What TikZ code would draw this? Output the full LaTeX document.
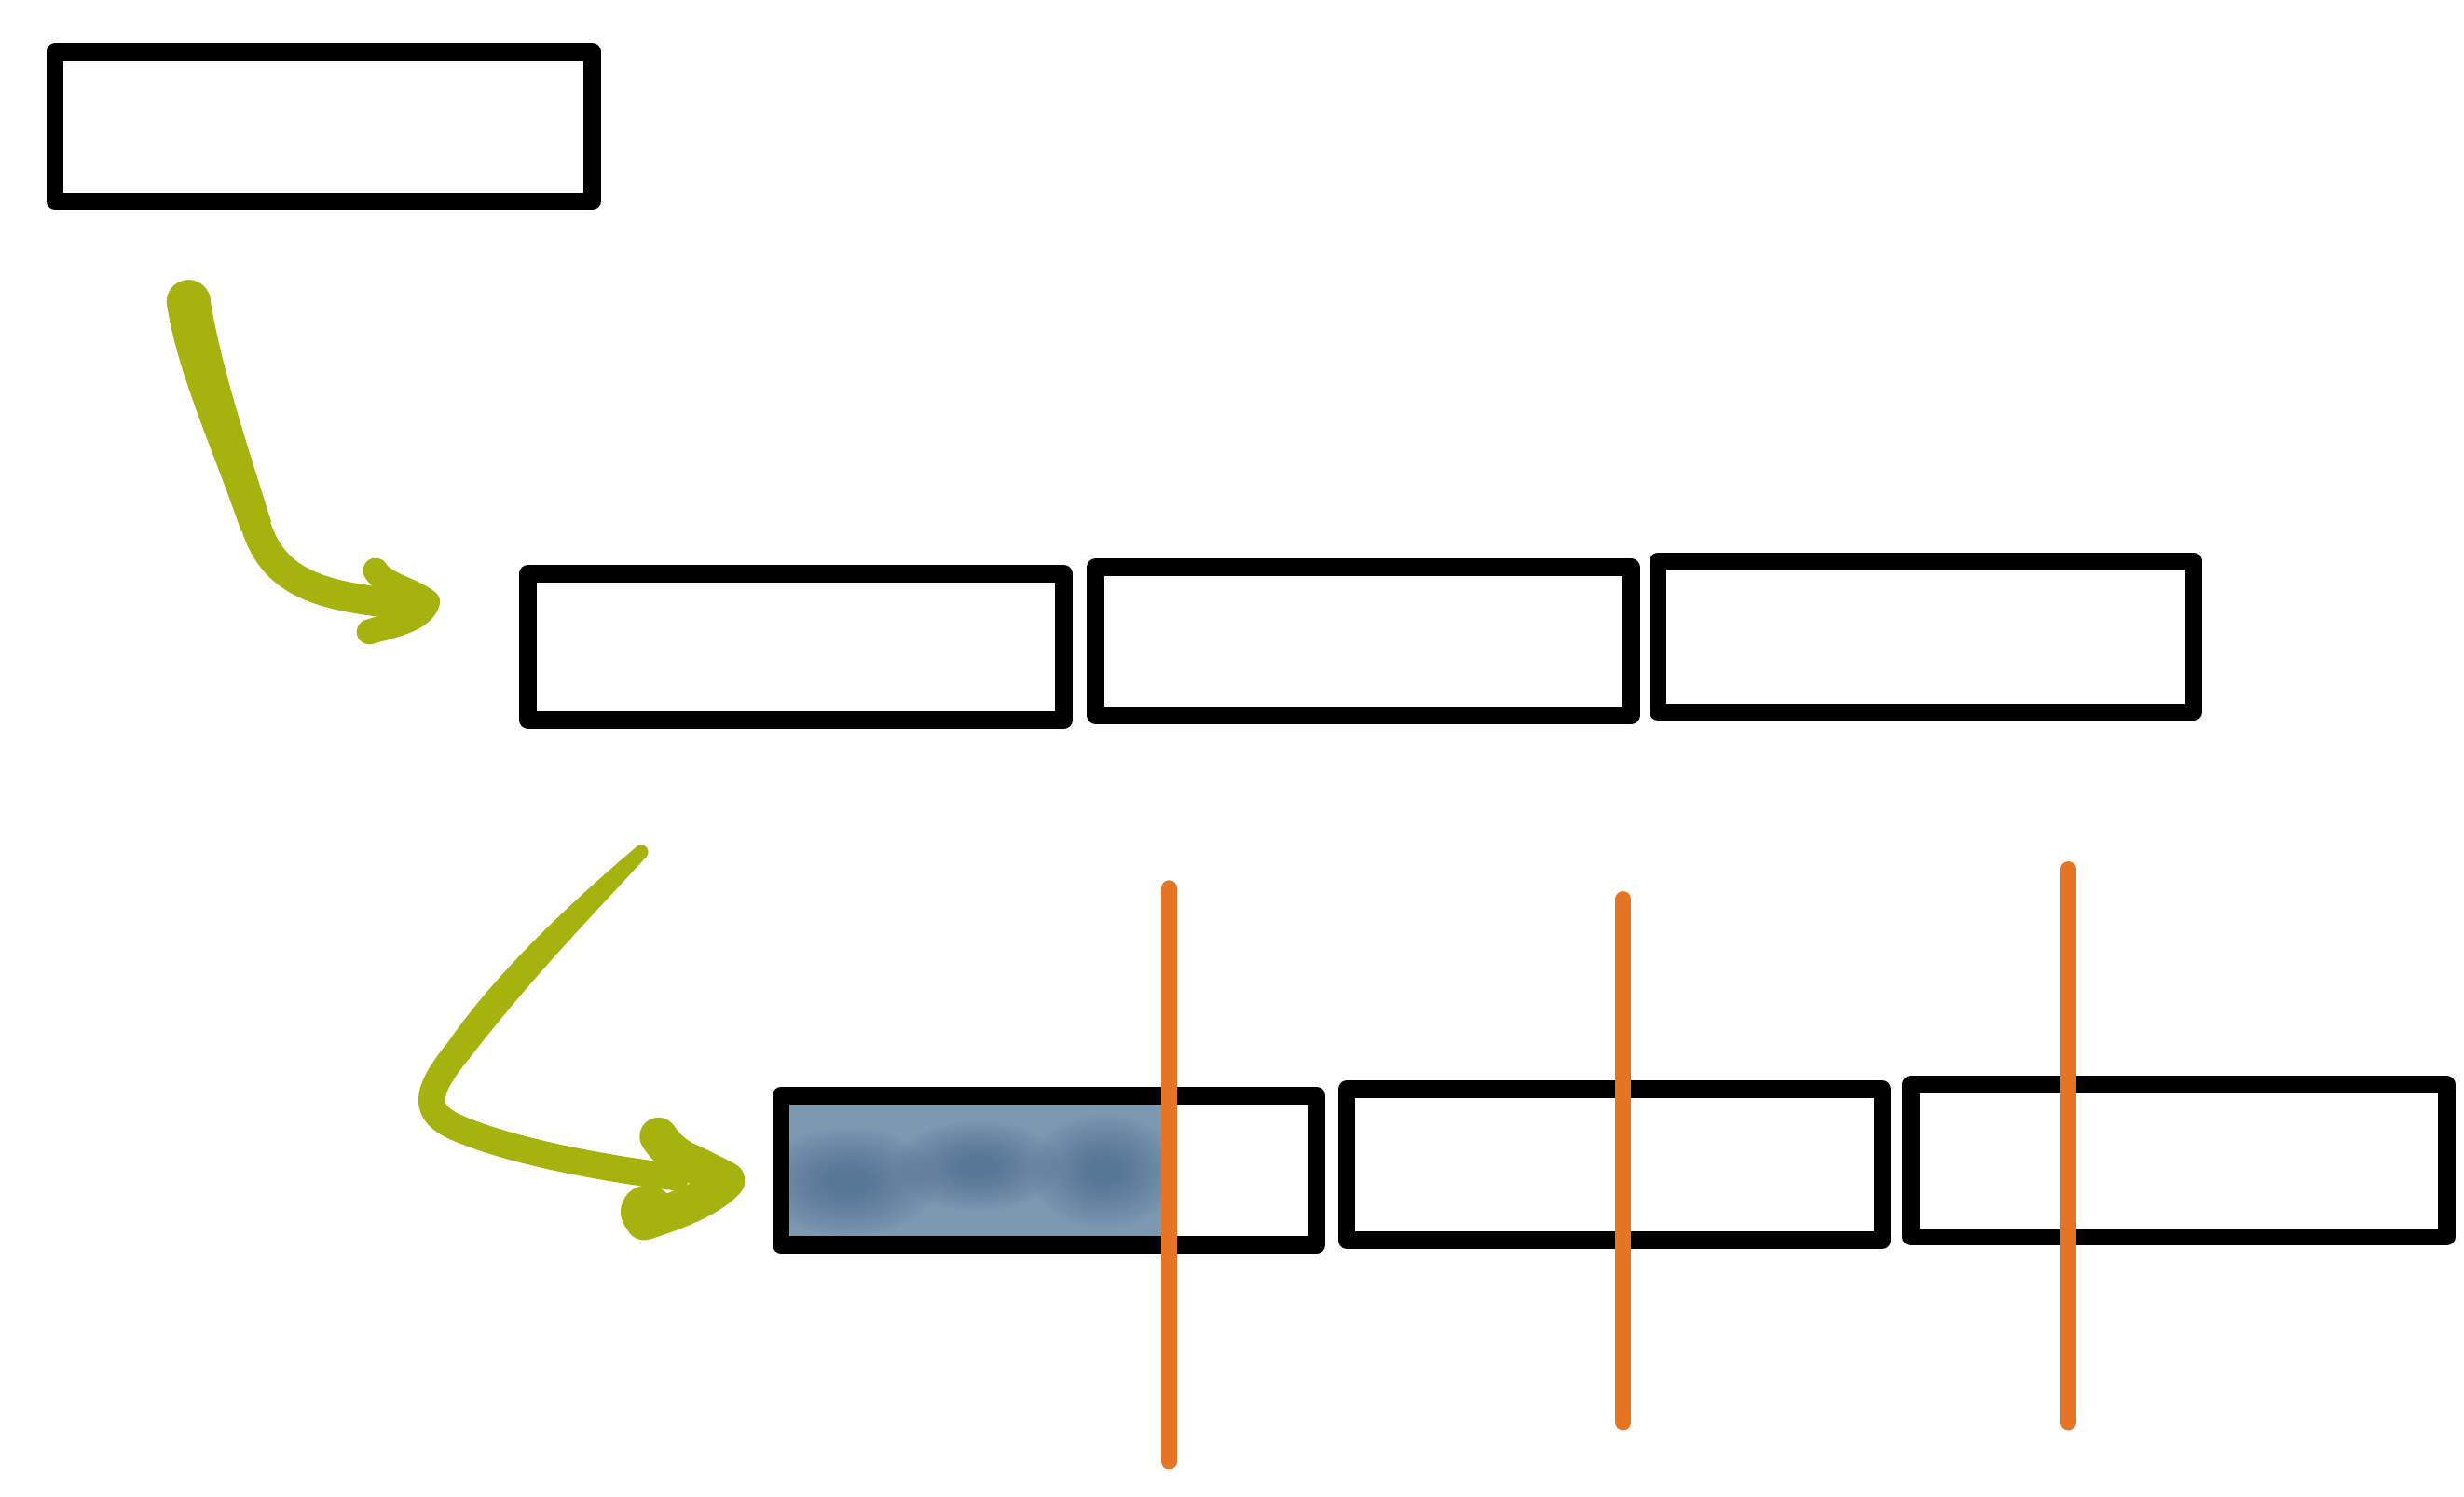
\documentclass[tikz,border=0pt]{standalone}
\definecolor{arrowgreen}{HTML}{A6B20E}
\definecolor{cutorange}{HTML}{E57524}
\definecolor{blueA}{HTML}{7D98B1}
\definecolor{blueB}{HTML}{3D6287}
\begin{document}
\begin{tikzpicture}[x=1pt,y=-1pt,
  blk/.style={draw=black,line width=11pt,rectangle,inner sep=0pt,outer sep=0pt,
    minimum width=341pt,minimum height=94pt,line join=round},
  edge/.style={draw=black,line width=11pt,line cap=round},
  grn/.style={draw=arrowgreen,line cap=round,line join=round},
  cut/.style={draw=cutorange,line width=10pt,line cap=round},
  blob/.style={fill=blueB,fill opacity=0.045}]
\useasboundingbox (0,0) rectangle (1568,952);
% blue shaded region
\begin{scope}
\clip[rounded corners=4pt] (501,701) rectangle (742,787);
\fill[blueA] (501,701) rectangle (742,787);
\foreach \r in {0.2,0.25,...,1.0}{
  \fill[blob] (540,752) ellipse ({60*\r} and {36*\r});
  \fill[blob] (703,745) ellipse ({50*\r} and {38*\r});
  \fill[blob] (622,742) ellipse ({56*\r} and {30*\r});
}
\end{scope}
% boxes
\node[blk,minimum width=342pt,minimum height=95pt] (a) at (206,80.5) {};
\node[blk,minimum height=93pt] (b1) at (506.5,411.5) {};
\node[blk] (b2) at (867.5,408) {};
\node[blk,minimum height=96pt] (b3) at (1225.5,405) {};
\node[blk,minimum height=95pt] (c1) at (667.5,744.5) {};
\node[blk,minimum height=96pt] (c2) at (1027.5,741) {};
\node[blk,minimum height=97pt] (c3) at (1386.5,738.5) {};
\foreach \b in {a,b1,b2,b3,c1,c2,c3}{
  \draw[edge] ([yshift=-1pt]\b.north west) -- ([yshift=4pt]\b.south west);
  \draw[edge] ([yshift=-2pt]\b.north east) -- ([yshift=2pt]\b.south east);
}
% cut lines
\coordinate (o1t) at (744,565); \coordinate (o1b) at (744,930);
\coordinate (o2t) at (1033,572); \coordinate (o2b) at (1033,905);
\coordinate (o3t) at (1316,553); \coordinate (o3b) at (1316,905);
\draw[cut] (o1t) -- (o1b);
\draw[cut] (o2t) -- (o2b);
\draw[cut] (o3t) -- (o3b);
% green arrow 1 (tapered stem)
\coordinate (g1s) at (120,192);
\coordinate (g1m) at (163,335);
\coordinate (g1e) at (262,385);
\fill[arrowgreen] (133.4,188.0) .. controls (140,232) and (158,285) .. (172.6,332.1)
   -- (153.4,337.9) .. controls (138,292) and (113,238) .. (106.6,196.0) -- cycle;
\fill[arrowgreen] (g1s) circle (14pt);
\draw[grn,line width=19pt] (g1m) .. controls (175,372) and (205,380) .. (g1e);
\draw[grn,line width=16pt] (239,363) .. controls (244,372) and (262,375) .. (272,383)
   .. controls (268,395) and (248,398) .. (235,402);
% green arrow 2
\coordinate (g2s) at (408,542);
\coordinate (g2m) at (292,668);
\coordinate (g2e) at (430,749);
\fill[arrowgreen] (411.3,545.0) .. controls (384,575) and (338,622) .. (298.3,673.8)
   -- (285.7,662.2) .. controls (322,610) and (378,562) .. (404.7,539.0) -- cycle;
\fill[arrowgreen] (g2s) circle (4.5pt);
\draw[grn,line width=17pt] (g2m) .. controls (270,695) and (268,708) .. (292,718)
   .. controls (330,734) and (390,744) .. (g2e);
\draw[grn,line width=24pt] (419,723) .. controls (425,732) and (432,737) .. (442,741)
   -- (462,751) .. controls (452,762) and (432,770) .. (410,777);
\fill[arrowgreen] (412,771) circle (17pt);
\end{tikzpicture}
\end{document}
